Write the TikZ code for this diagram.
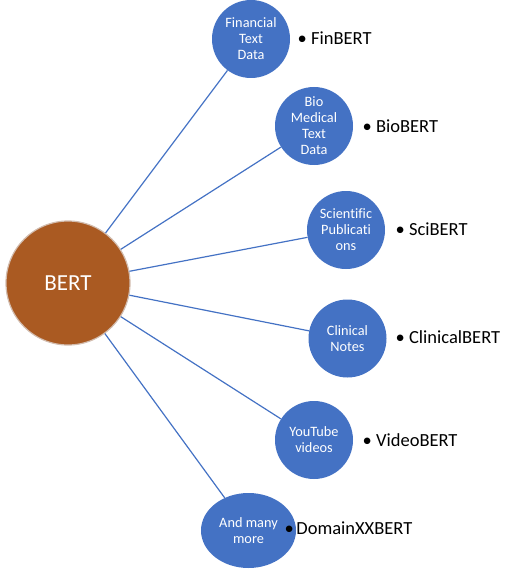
\documentclass[tikz,border=0pt]{standalone}
\usepackage{fontspec}
\setmainfont{Carlito}[Ligatures=CommonOff]
\usetikzlibrary{positioning,shapes.geometric}
\definecolor{officeblue}{HTML}{4472C4}
\definecolor{bertbrown}{HTML}{AA5A22}
\definecolor{rimgrey}{HTML}{D2BCAE}
\tikzset{hub/.style={circle,draw=rimgrey,line width=1.2pt,fill=bertbrown,text=white,inner sep=0pt,minimum size=124pt,font=\fontsize{23}{28}\selectfont},
	 field/.style={circle,fill=officeblue,text=white,inner sep=-2pt,minimum size=78pt,align=center,font=\fontsize{14.3}{16}\selectfont},
	 model/.style={anchor=west,inner sep=0pt,font=\fontsize{18.5}{22}\selectfont},
	 link/.style={draw=officeblue,line width=1.2pt}
	 }

\begin{document}
\begin{tikzpicture}[x=1pt,y=-1pt] % BERT and its domain variants
	\useasboundingbox (0,0) rectangle (509,580);
	\node[hub] (bert) at (68,283) {BERT};
	\node[field] (fin) at (251,39) {Financial\\Text\\Data};
	\node[field] (bio) at (314,126) {Bio\\Medical\\Text\\Data};
	\node[field] (sci) at (346,230) {Scientific\\Publicati\\ons};
	\node[field] (clin) at (347.5,338.5) {Clinical\\Notes};
	\node[field] (yt) at (314,440) {YouTube\\videos};
	\node[field,ellipse,minimum width=95pt,minimum height=75pt] (more) at (248.5,530.5) {And many\\more};
	\node[model] (finm) at (297.5,38) {\textbullet\ FinBERT};
	\node[model] (biom) at (362.5,126) {\textbullet\ BioBERT};
	\node[model] (scim) at (395.5,229) {\textbullet\ SciBERT};
	\node[model] (clinm) at (395.5,337) {\textbullet\ ClinicalBERT};
	\node[model] (ytm) at (362.5,440) {\textbullet\ VideoBERT};
	\node[model] (morem) at (284.5,528) {\textbullet\kern2.5pt DomainXXBERT};
	\foreach \d in {fin,bio,sci,clin,yt,more}
		\draw[link] (bert) to (\d);
     \end{tikzpicture}
\end{document}
